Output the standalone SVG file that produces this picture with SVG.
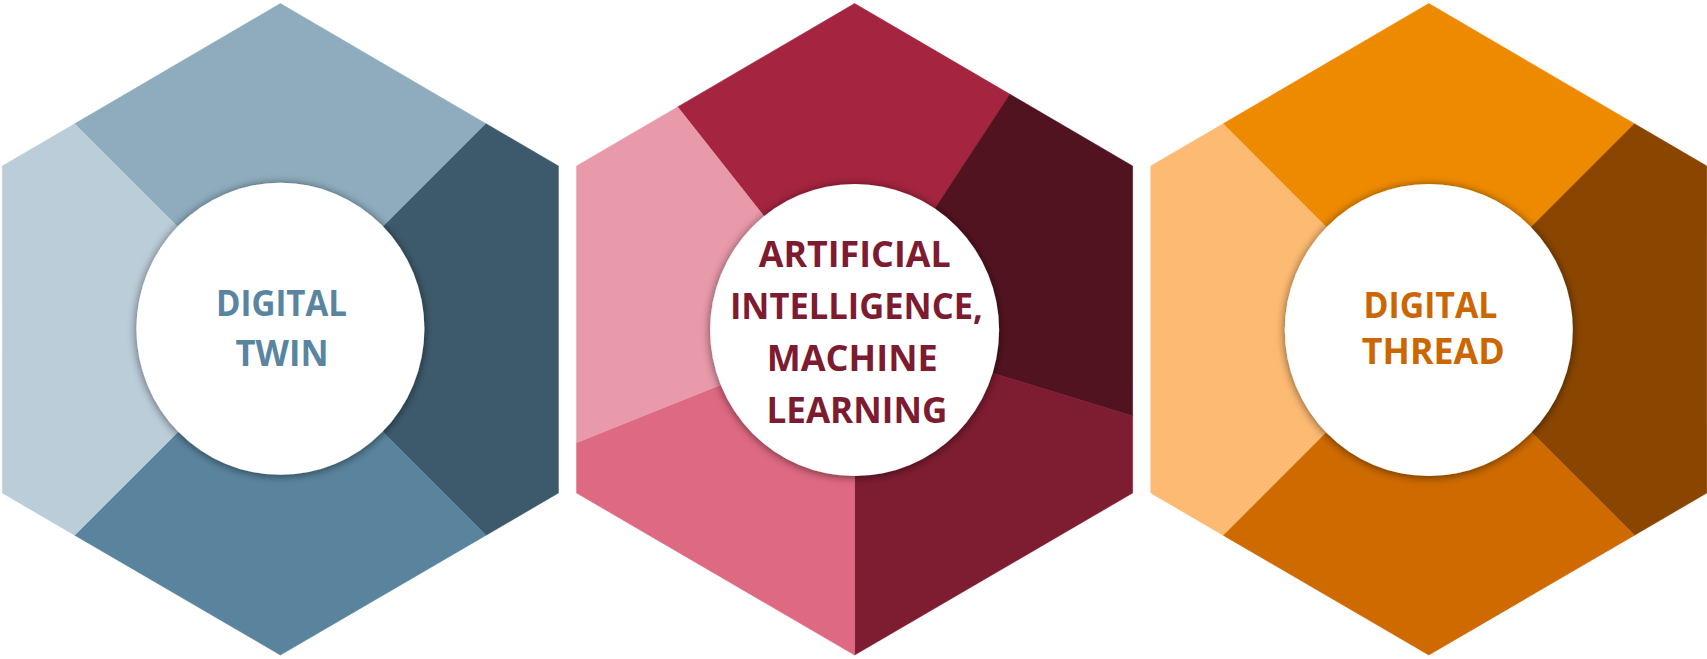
<svg xmlns="http://www.w3.org/2000/svg" width="1707" height="659" viewBox="0 0 1707 659">
  <defs>
    <filter id="sh" x="-20%" y="-20%" width="140%" height="140%">
      <feGaussianBlur in="SourceAlpha" stdDeviation="5"/>
      <feOffset dy="1"/>
      <feComponentTransfer><feFuncA type="linear" slope="0.55"/></feComponentTransfer>
      <feMerge><feMergeNode/><feMergeNode in="SourceGraphic"/></feMerge>
    </filter>
  </defs>
  <style>
    polygon { stroke-width: 0.6; stroke-linejoin: round; }
    .lbl { font-family: "Open Sans", "Noto Sans", "Liberation Sans", sans-serif; font-weight: 700; font-size: 35px; text-anchor: middle; }
    .disc { fill: #ffffff; filter: url(#sh); }
  </style>

  <g id="twin">
    <polygon points="280.4,329.5 74.7,123.8 280.4,3.5 486.1,123.8" fill="#8EACBE" stroke="#8EACBE"/>
    <polygon points="280.4,329.5 486.1,123.8 558.4,166 558.4,493 486.1,535.2" fill="#3D5A6C" stroke="#3D5A6C"/>
    <polygon points="280.4,329.5 486.1,535.2 280.4,655 74.7,535.2" fill="#5A849E" stroke="#5A849E"/>
    <polygon points="280.4,329.5 74.7,535.2 2.4,493 2.4,166 74.7,123.8" fill="#BBCDD9" stroke="#BBCDD9"/>
    <ellipse class="disc" cx="280.4" cy="328.8" rx="144" ry="146"/>
    <text class="lbl" fill="#5A85A0" font-size="37" x="281.5" y="316.3" textLength="131" lengthAdjust="spacingAndGlyphs">DIGITAL</text>
    <text class="lbl" fill="#5A85A0" font-size="37" x="282" y="366" textLength="93" lengthAdjust="spacingAndGlyphs">TWIN</text>
  </g>

  <g id="ai-ml">
    <polygon points="854.6,331 677.7,106.9 854.6,3.5 1010,94.3" fill="#A5243F" stroke="#A5243F"/>
    <polygon points="854.6,331 1010,94.3 1132.6,166 1132.6,416" fill="#521320" stroke="#521320"/>
    <polygon points="854.6,331 1132.6,416 1132.6,493 854.6,655" fill="#7E1C31" stroke="#7E1C31"/>
    <polygon points="854.6,331 854.6,655 576.6,493 576.6,442.7" fill="#DE6982" stroke="#DE6982"/>
    <polygon points="854.6,331 576.6,442.7 576.6,166 677.7,106.9" fill="#E899AA" stroke="#E899AA"/>
    <ellipse class="disc" cx="854.6" cy="330" rx="144.5" ry="146"/>
    <text class="lbl" fill="#7D1B30" x="854.7" y="267.3" textLength="192" lengthAdjust="spacingAndGlyphs">ARTIFICIAL</text>
    <text class="lbl" fill="#7D1B30" x="856.4" y="319.3" textLength="253" lengthAdjust="spacingAndGlyphs">INTELLIGENCE,</text>
    <text class="lbl" fill="#7D1B30" x="852.2" y="371" textLength="171" lengthAdjust="spacingAndGlyphs">MACHINE</text>
    <text class="lbl" fill="#7D1B30" x="856.9" y="422.7" textLength="181" lengthAdjust="spacingAndGlyphs">LEARNING</text>
  </g>

  <g id="thread">
    <polygon points="1428.8,329.5 1223.1,123.8 1428.8,3.5 1634.5,123.8" fill="#EE8A00" stroke="#EE8A00"/>
    <polygon points="1428.8,329.5 1634.5,123.8 1706.8,166 1706.8,493 1634.5,535.2" fill="#8A4600" stroke="#8A4600"/>
    <polygon points="1428.8,329.5 1634.5,535.2 1428.8,655 1223.1,535.2" fill="#CE6A00" stroke="#CE6A00"/>
    <polygon points="1428.8,329.5 1223.1,535.2 1150.8,493 1150.8,166 1223.1,123.8" fill="#FDBA72" stroke="#FDBA72"/>
    <ellipse class="disc" cx="1428.8" cy="330" rx="144" ry="146"/>
    <text class="lbl" fill="#CC6600" font-size="36" x="1430.4" y="318" textLength="134" lengthAdjust="spacingAndGlyphs">DIGITAL</text>
    <text class="lbl" fill="#CC6600" font-size="36" x="1433.3" y="364.3" textLength="143" lengthAdjust="spacingAndGlyphs">THREAD</text>
  </g>
</svg>
